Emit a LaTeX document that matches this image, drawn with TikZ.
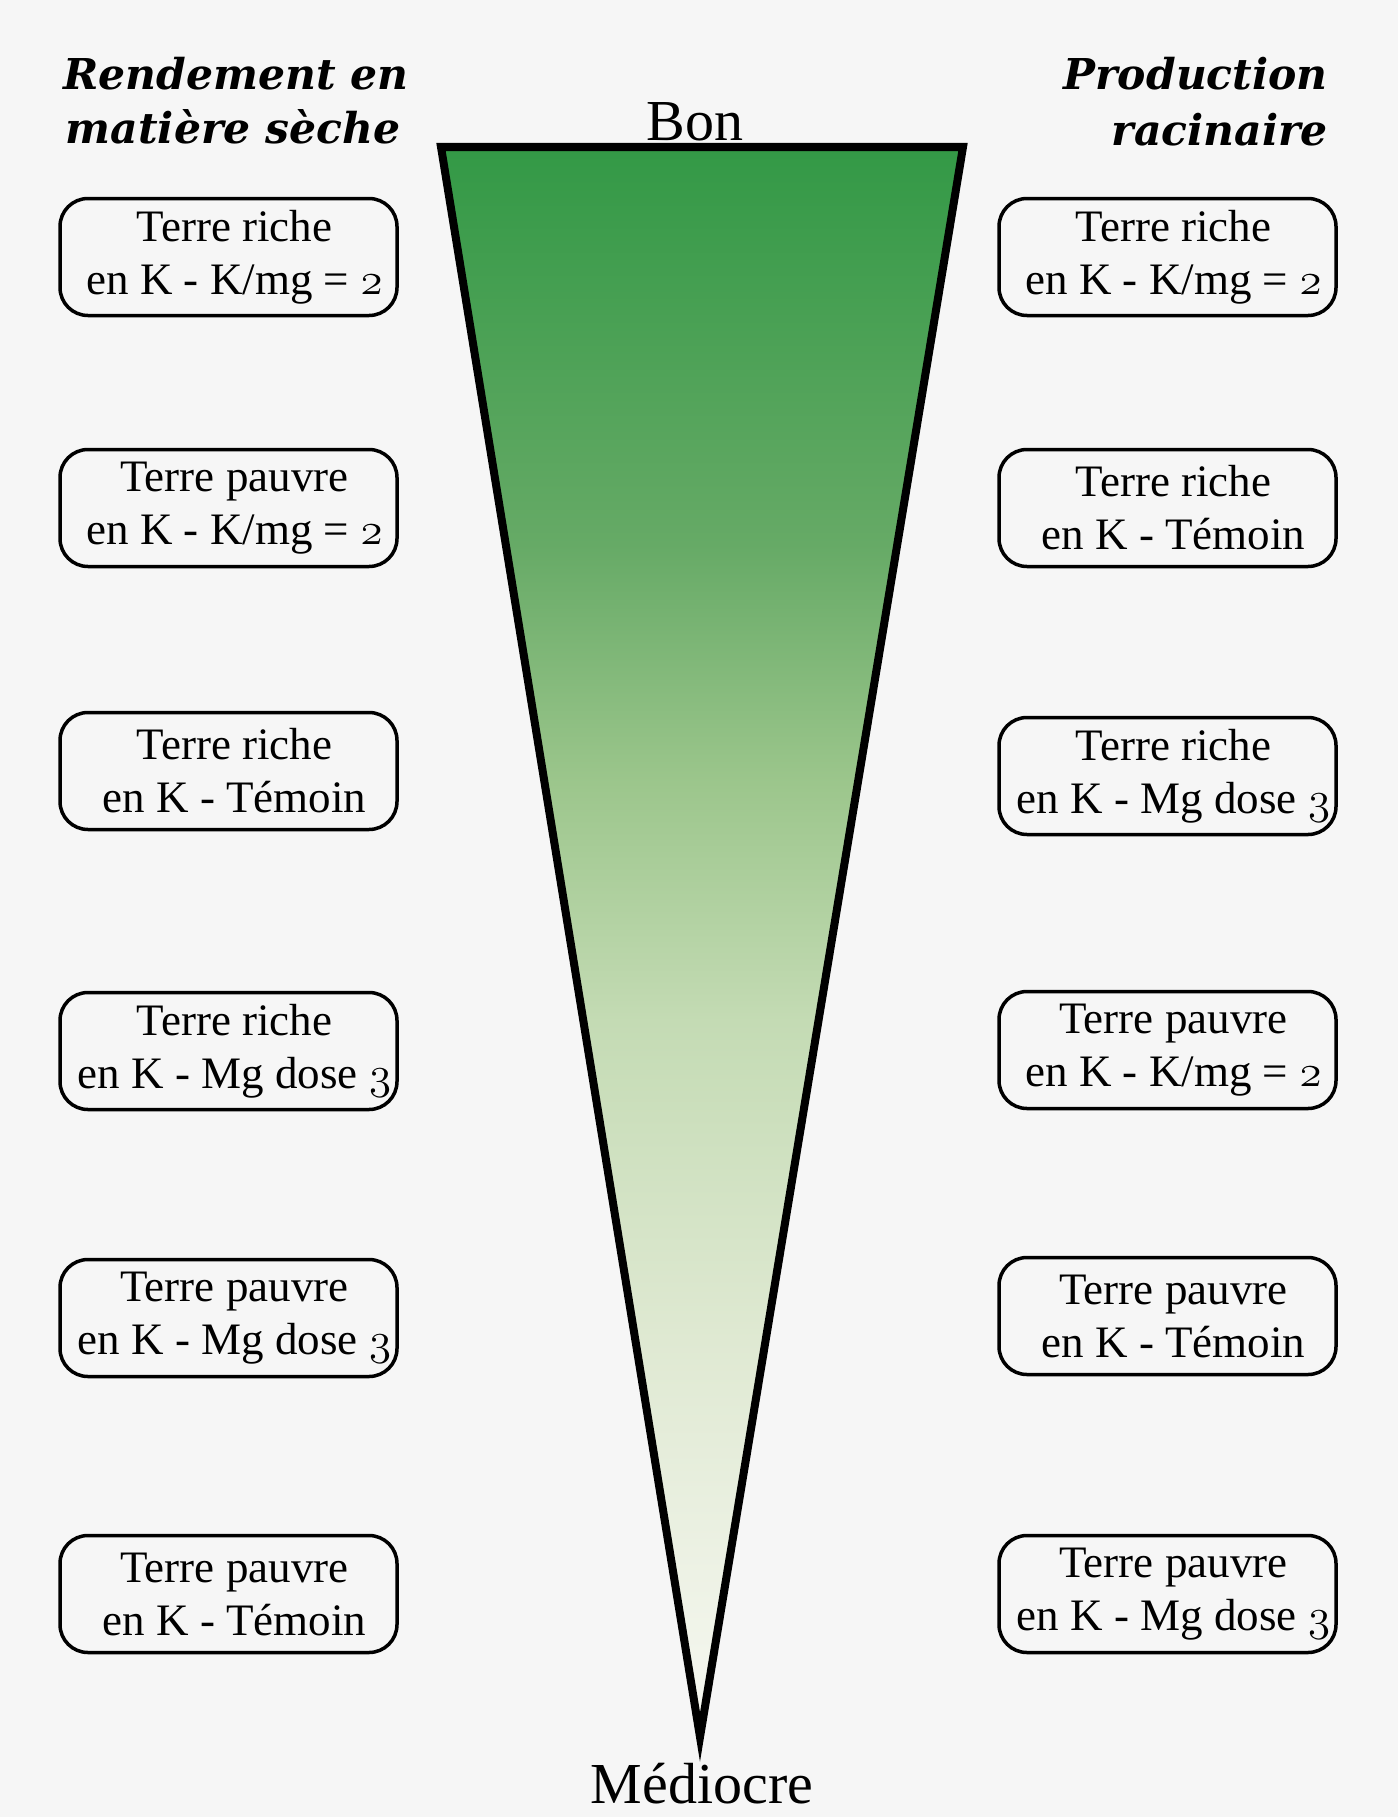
\RequirePackage{fix-cm}
\documentclass[tikz,border=0pt]{standalone}
\usepackage{fontspec}
\setmainfont{Liberation Serif}
\newfontfamily\titlefont{DejaVu Serif}
\newcommand\myosf[1]{{\usefont{OML}{cmm}{m}{it}#1}}
\newcommand\twol[2]{\hspace*{12pt}#1\\\hspace*{12pt}#2}
\definecolor{bgc}{HTML}{F6F6F6}
\definecolor{gT}{RGB}{51,153,70}
\definecolor{g1}{RGB}{102,170,102}
\definecolor{g2}{RGB}{156,198,140}
\definecolor{g3}{RGB}{196,219,180}
\definecolor{g4}{RGB}{223,233,210}
\definecolor{gB}{RGB}{247,248,242}
\pgfdeclareverticalshading{trigrad}{100bp}{color(0bp)=(gB); color(25bp)=(gB); color(37.5bp)=(g4); color(47.5bp)=(g3); color(55bp)=(g2); color(62.5bp)=(g1); color(75bp)=(gT); color(100bp)=(gT)}
\tikzset{
  cbox/.style={draw=black, line width=3.5pt, rounded corners=28pt, minimum width=337pt, minimum height=117pt, align=center, inner sep=0pt, font=\fontsize{45}{53}\selectfont, text=black},
  ttl/.style={font=\titlefont\bfseries\itshape\fontsize{42.5}{50}\selectfont, inner sep=0pt, text=black},
  lbl/.style={font=\fontsize{58}{60}\selectfont, inner sep=0pt, anchor=base, text=black}
}
\begin{document}
\begin{tikzpicture}[x=1pt,y=-1pt]
\fill[bgc] (0,0) rectangle (1398,1817);
\useasboundingbox (0,0) rectangle (1398,1817);
% titles
\node[ttl, anchor=base] (tl1) at (236,90) {Rendement en};
\node[ttl, anchor=base] (tl2) at (233,143) {matière sèche};
\node[ttl, anchor=base east] (tr1) at (1328,90) {Production};
\node[ttl, anchor=base east] (tr2) at (1328,146) {racinaire};
% triangle
\coordinate (tL) at (441,147);
\coordinate (tR) at (963,147);
\coordinate (ap) at (700,1737);
\shadedraw[shading=trigrad, draw=black, line width=8pt, line join=miter] (tL) -- (tR) -- (ap) -- cycle;
\node[lbl] (bon) at (695,141) {Bon};
\node[lbl] (med) at (702,1803) {Médiocre};
% left boxes
\node[cbox] (l1) at (228.5,257) {\twol{Terre riche}{en K - K/mg = \myosf{2}}};
\node[cbox] (l2) at (228.5,508) {\twol{Terre pauvre}{en K - K/mg = \myosf{2}}};
\node[cbox] (l3) at (228.5,771) {\twol{Terre riche}{en K - Témoin}};
\node[cbox] (l4) at (228.5,1051) {\twol{Terre riche}{en K - Mg dose \myosf{3}}};
\node[cbox] (l5) at (228.5,1318) {\twol{Terre pauvre}{en K - Mg dose \myosf{3}}};
\node[cbox] (l6) at (228.5,1594) {\twol{Terre pauvre}{en K - Témoin}};
% right boxes
\node[cbox] (r1) at (1167.5,257) {\twol{Terre riche}{en K - K/mg = \myosf{2}}};
\node[cbox] (r2) at (1167.5,508) {\twol{Terre riche}{en K - Témoin}};
\node[cbox] (r3) at (1167.5,776) {\twol{Terre riche}{en K - Mg dose \myosf{3}}};
\node[cbox] (r4) at (1167.5,1050) {\twol{Terre pauvre}{en K - K/mg = \myosf{2}}};
\node[cbox] (r5) at (1167.5,1316) {\twol{Terre pauvre}{en K - Témoin}};
\node[cbox] (r6) at (1167.5,1594) {\twol{Terre pauvre}{en K - Mg dose \myosf{3}}};
\end{tikzpicture}
\end{document}
